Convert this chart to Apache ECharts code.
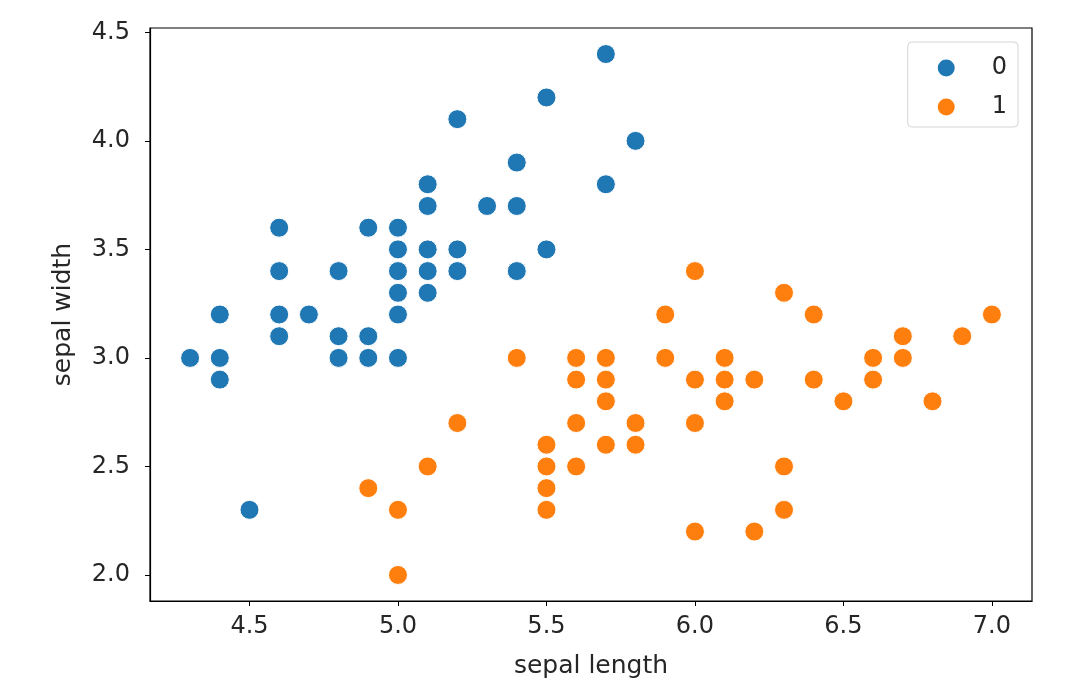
<!DOCTYPE html>
<html>
<head>
<meta charset="utf-8">
<script src="https://cdn.jsdelivr.net/npm/echarts@6/dist/echarts.min.js"></script>
<style>
  html, body { margin: 0; padding: 0; background: #fff; }
  #chartmain { width: 1080px; height: 692px; }
</style>
</head>
<body>
<div id="chartmain"></div>
<script>
// iris: setosa (0) and versicolor (1), sepal length / sepal width
var setosaLength = [5.1, 4.9, 4.7, 4.6, 5.0, 5.4, 4.6, 5.0, 4.4, 4.9, 5.4, 4.8, 4.8, 4.3, 5.8, 5.7, 5.4, 5.1, 5.7, 5.1,
    5.4, 5.1, 4.6, 5.1, 4.8, 5.0, 5.0, 5.2, 5.2, 4.7, 4.8, 5.4, 5.2, 5.5, 4.9, 5.0, 5.5, 4.9, 4.4, 5.1,
    5.0, 4.5, 4.4, 5.0, 5.1, 4.8, 5.1, 4.6, 5.3, 5.0];
var setosaWidth = [3.5, 3.0, 3.2, 3.1, 3.6, 3.9, 3.4, 3.4, 2.9, 3.1, 3.7, 3.4, 3.0, 3.0, 4.0, 4.4, 3.9, 3.5, 3.8, 3.8,
    3.4, 3.7, 3.6, 3.3, 3.4, 3.0, 3.4, 3.5, 3.4, 3.2, 3.1, 3.4, 4.1, 4.2, 3.1, 3.2, 3.5, 3.6, 3.0, 3.4,
    3.5, 2.3, 3.2, 3.5, 3.8, 3.0, 3.8, 3.2, 3.7, 3.3];
var versicolorLength = [7.0, 6.4, 6.9, 5.5, 6.5, 5.7, 6.3, 4.9, 6.6, 5.2, 5.0, 5.9, 6.0, 6.1, 5.6, 6.7, 5.6, 5.8, 6.2, 5.6,
    5.9, 6.1, 6.3, 6.1, 6.4, 6.6, 6.8, 6.7, 6.0, 5.7, 5.5, 5.5, 5.8, 6.0, 5.4, 6.0, 6.7, 6.3, 5.6, 5.5,
    5.5, 6.1, 5.8, 5.0, 5.6, 5.7, 5.7, 6.2, 5.1, 5.7];
var versicolorWidth = [3.2, 3.2, 3.1, 2.3, 2.8, 2.8, 3.3, 2.4, 2.9, 2.7, 2.0, 3.0, 2.2, 2.9, 2.9, 3.1, 3.0, 2.7, 2.2, 2.5,
    3.2, 2.8, 2.5, 2.8, 2.9, 3.0, 2.8, 3.0, 2.9, 2.6, 2.4, 2.4, 2.7, 2.7, 3.0, 3.4, 3.1, 2.3, 3.0, 2.5,
    2.6, 3.0, 2.6, 2.3, 2.7, 3.0, 2.9, 2.9, 2.5, 2.8];
var classNames = ['0', '1'];
var xTicks = [4.5, 5.0, 5.5, 6.0, 6.5, 7.0];
var yTicks = [2.0, 2.5, 3.0, 3.5, 4.0, 4.5];

function pairs(xs, ys) {
    var out = [];
    for (var i = 0; i < xs.length; i++) out.push([xs[i], ys[i]]);
    return out;
}

var myChart = echarts.init(document.getElementById('chartmain'));
var tickFont = {color: '#262626', fontSize: 24, fontFamily: 'DejaVu Sans'};
var nameFont = {color: '#262626', fontSize: 25, fontFamily: 'DejaVu Sans'};

var option = {
    backgroundColor: '#FFFFFF',
    animation: false,
    grid: {
        left: 150, right: 48, top: 28, bottom: 91,
        show: true, borderColor: '#000', borderWidth: 1.2
    },
    legend: {
        data: classNames,
        orient: 'vertical',
        right: 62,
        top: 42,
        icon: 'circle',
        itemWidth: 19,
        itemHeight: 19,
        itemGap: 15,
        padding: [14, 11, 8, 28],
        backgroundColor: '#fff',
        borderColor: '#d5d5d5',
        borderWidth: 1,
        borderRadius: 4,
        textStyle: {color: '#262626', fontSize: 24, fontFamily: 'DejaVu Sans', padding: [0, 0, 0, 31]}
    },
    xAxis: {
        type: 'value',
        min: 4.165,
        max: 7.135,
        name: 'sepal length',
        nameLocation: 'middle',
        nameGap: 53,
        nameTextStyle: nameFont,
        splitLine: {show: false},
        axisLine: {show: true, onZero: false, lineStyle: {color: '#000', width: 1.2}},
        axisTick: {show: true, length: 5, customValues: xTicks, lineStyle: {color: '#000'}},
        axisLabel: Object.assign({customValues: xTicks, margin: 14, formatter: function (v) { return v.toFixed(1); }}, tickFont)
    },
    yAxis: {
        type: 'value',
        min: 1.88,
        max: 4.52,
        name: 'sepal width',
        nameLocation: 'middle',
        nameGap: 74,
        nameTextStyle: nameFont,
        splitLine: {show: false},
        axisLine: {show: true, onZero: false, lineStyle: {color: '#000', width: 1.2}},
        axisTick: {show: true, length: 5, customValues: yTicks, lineStyle: {color: '#000'}},
        axisLabel: Object.assign({customValues: yTicks, margin: 20, formatter: function (v) { return v.toFixed(1); }}, tickFont)
    },
    series: [
        {
            name: classNames[0],
            type: 'scatter',
            symbolSize: 19,
            itemStyle: {color: '#1f77b4', borderColor: '#fff', borderWidth: 1, opacity: 1},
            data: pairs(setosaLength, setosaWidth)
        },
        {
            name: classNames[1],
            type: 'scatter',
            symbolSize: 19,
            itemStyle: {color: '#ff7f0e', borderColor: '#fff', borderWidth: 1, opacity: 1},
            data: pairs(versicolorLength, versicolorWidth)
        }
    ]
};

myChart.setOption(option);
</script>
</body>
</html>
